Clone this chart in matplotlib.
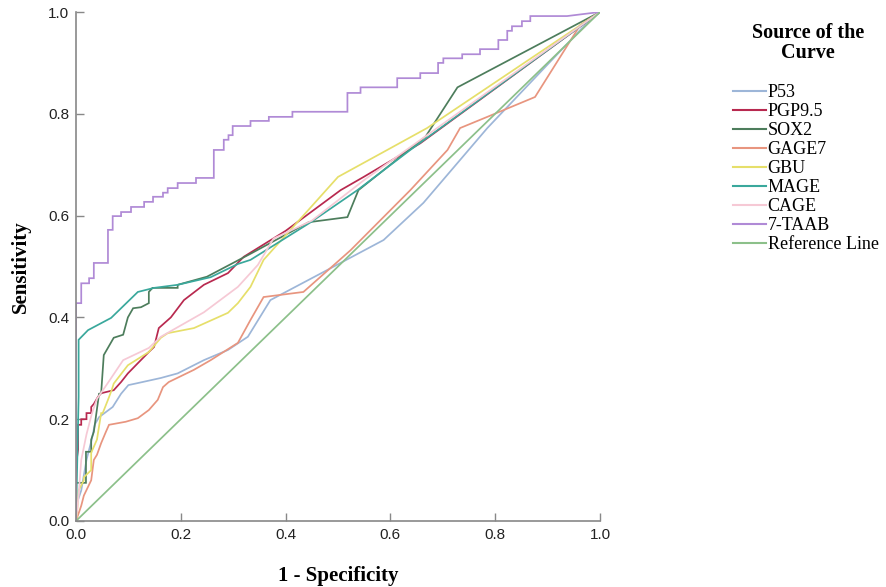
import matplotlib
matplotlib.use("Agg")
import matplotlib.pyplot as plt
from matplotlib.lines import Line2D

# ---- data ----
labels = ["P53", "PGP9.5", "SOX2", "GAGE7", "GBU", "MAGE", "CAGE", "7-TAAB", "Reference Line"]
legend_title = "Source of the\nCurve"
tick_vals = [0, 0.2, 0.4, 0.6, 0.8, 1.0]
tick_labels = ["0.0", "0.2", "0.4", "0.6", "0.8", "1.0"]

p53_x = [0, 0, 0.01, 0.02, 0.03, 0.036, 0.044, 0.07, 0.086, 0.10, 0.118, 0.162, 0.194, 0.244, 0.29, 0.328, 0.371, 0.472, 0.587, 0.663, 0.785, 0.971, 1.0]
p53_y = [0, 0.03, 0.06, 0.12, 0.16, 0.19, 0.204, 0.224, 0.25, 0.267, 0.271, 0.281, 0.29, 0.316, 0.336, 0.362, 0.434, 0.489, 0.552, 0.625, 0.772, 0.974, 1.0]

pgp_x = [0, 0, 0.004, 0.004, 0.01, 0.01, 0.02, 0.02, 0.029, 0.029, 0.034, 0.042, 0.048, 0.072, 0.086, 0.099, 0.118, 0.139, 0.149, 0.158, 0.181, 0.206, 0.244, 0.29, 0.32, 0.40, 0.505, 0.549, 0.657, 1.0]
pgp_y = [0, 0.11, 0.14, 0.189, 0.189, 0.20, 0.20, 0.212, 0.212, 0.224, 0.23, 0.244, 0.251, 0.257, 0.273, 0.29, 0.31, 0.332, 0.342, 0.379, 0.40, 0.434, 0.464, 0.487, 0.519, 0.57, 0.65, 0.676, 0.742, 1.0]

sox2_x = [0, 0, 0.019, 0.019, 0.029, 0.029, 0.034, 0.044, 0.048, 0.053, 0.072, 0.09, 0.099, 0.109, 0.124, 0.139, 0.139, 0.146, 0.194, 0.194, 0.25, 0.333, 0.444, 0.518, 0.539, 0.667, 0.728, 1.0]
sox2_y = [0, 0.075, 0.075, 0.136, 0.136, 0.16, 0.175, 0.25, 0.251, 0.326, 0.36, 0.366, 0.40, 0.418, 0.42, 0.428, 0.45, 0.458, 0.458, 0.464, 0.48, 0.525, 0.587, 0.597, 0.65, 0.755, 0.852, 1.0]

gage7_x = [0, 0.01, 0.015, 0.029, 0.034, 0.04, 0.048, 0.057, 0.063, 0.095, 0.118, 0.139, 0.156, 0.166, 0.177, 0.225, 0.257, 0.309, 0.333, 0.358, 0.434, 0.524, 0.638, 0.709, 0.733, 0.785, 0.876, 0.962, 1.0]
gage7_y = [0, 0.03, 0.05, 0.08, 0.12, 0.13, 0.153, 0.175, 0.189, 0.195, 0.202, 0.218, 0.238, 0.263, 0.273, 0.297, 0.316, 0.35, 0.395, 0.44, 0.45, 0.532, 0.65, 0.729, 0.772, 0.794, 0.833, 0.974, 1.0]

gbu_x = [0, 0.002, 0.005, 0.015, 0.015, 0.029, 0.029, 0.04, 0.048, 0.051, 0.061, 0.068, 0.072, 0.099, 0.139, 0.162, 0.175, 0.225, 0.29, 0.309, 0.333, 0.358, 0.50, 0.594, 0.67, 1.0]
gbu_y = [0, 0.016, 0.06, 0.08, 0.086, 0.10, 0.134, 0.16, 0.212, 0.212, 0.238, 0.257, 0.27, 0.306, 0.332, 0.36, 0.369, 0.379, 0.409, 0.428, 0.46, 0.513, 0.676, 0.729, 0.772, 1.0]

mage_x = [0, 0.005, 0.005, 0.023, 0.067, 0.118, 0.149, 0.194, 0.257, 0.309, 0.333, 0.448, 0.537, 0.638, 1.0]
mage_y = [0, 0.244, 0.356, 0.375, 0.399, 0.45, 0.458, 0.464, 0.479, 0.505, 0.513, 0.587, 0.65, 0.729, 1.0]

cage_x = [0, 0.005, 0.01, 0.02, 0.03, 0.04, 0.06, 0.09, 0.139, 0.162, 0.244, 0.309, 0.347, 0.377, 0.45, 0.55, 1.0]
cage_y = [0, 0.05, 0.12, 0.17, 0.21, 0.24, 0.27, 0.316, 0.34, 0.362, 0.41, 0.46, 0.503, 0.555, 0.59, 0.67, 1.0]

# 7-TAAB: step risers (x position, level after the rise), then final segment to (1,1)
taab_step_x = [0, 0.010, 0.025, 0.034, 0.061, 0.070, 0.086, 0.105, 0.130, 0.147, 0.166, 0.175, 0.194, 0.229, 0.263, 0.282, 0.291, 0.299, 0.333, 0.368, 0.413, 0.518, 0.543, 0.613, 0.657, 0.691, 0.701, 0.737, 0.771, 0.806, 0.823, 0.832, 0.851, 0.867]
taab_step_y = [0.428, 0.467, 0.477, 0.507, 0.572, 0.599, 0.607, 0.617, 0.627, 0.637, 0.645, 0.654, 0.664, 0.674, 0.729, 0.749, 0.758, 0.776, 0.786, 0.794, 0.804, 0.841, 0.852, 0.870, 0.880, 0.900, 0.909, 0.917, 0.927, 0.945, 0.963, 0.972, 0.982, 0.992]
taab_end_x = [0.937, 1.0]
taab_end_y = [0.992, 1.0]

ref_x = [0, 1]
ref_y = [0, 1]

colors = ["#9db6d8", "#b8294f", "#4d7d5c", "#e8957f", "#e6df6a", "#3aa89c", "#f6c9d5", "#b08ad6", "#8cc08a"]

# build 7-TAAB vertices from the step data
tx, ty = [0.0], [0.0]
for xs, ys in zip(taab_step_x, taab_step_y):
    tx += [xs, xs]
    ty += [ty[-1], ys]
tx += taab_end_x
ty += taab_end_y

series = [(p53_x, p53_y), (pgp_x, pgp_y), (sox2_x, sox2_y), (gage7_x, gage7_y),
          (gbu_x, gbu_y), (mage_x, mage_y), (cage_x, cage_y), (tx, ty), (ref_x, ref_y)]

fig = plt.figure(figsize=(8.86, 5.87), dpi=100)
ax = fig.add_axes([76 / 886, 66 / 587, 524 / 886, 509 / 587])

for (xs, ys), c, lab in zip(series, colors, labels):
    ax.plot(xs, ys, color=c, lw=1.25, label=lab, solid_joinstyle="miter")

ax.set_xlim(0, 1)
ax.set_ylim(0, 1)
ax.set_xticks(tick_vals)
ax.set_yticks(tick_vals)
ax.set_xticklabels(tick_labels)
ax.set_yticklabels(tick_labels)
for sp in ["top", "right"]:
    ax.spines[sp].set_visible(False)
for sp in ["left", "bottom"]:
    ax.spines[sp].set_color("#888888")
    ax.spines[sp].set_linewidth(1.2)
ax.tick_params(direction="in", length=6, width=1, color="#888888", labelsize=11,
               labelcolor="#222222", pad=5)
for t in ax.get_xticklabels() + ax.get_yticklabels():
    t.set_family("Liberation Sans")

ax.set_xlabel("1 - Specificity", family="Liberation Serif", fontweight="bold", fontsize=15, labelpad=17)
ax.set_ylabel("Sensitivity", family="Liberation Serif", fontweight="bold", fontsize=15, labelpad=12)

fig.text(808 / 886, 1 - 43 / 587, legend_title, ha="center", va="center", multialignment="center",
         family="Liberation Serif", fontweight="bold", fontsize=14.5, linespacing=1.0)

handles = [Line2D([0], [0], color=c, lw=1.5) for c in colors]
fig.legend(handles, labels, loc="upper left", bbox_to_anchor=(733 / 886, 1 - 84 / 587),
           frameon=False, borderaxespad=0, borderpad=0,
           prop={"family": "Liberation Serif", "size": 13},
           handlelength=1.8, handletextpad=0.12, labelspacing=0.11)

fig.savefig("out.png", dpi=100, facecolor="white")
